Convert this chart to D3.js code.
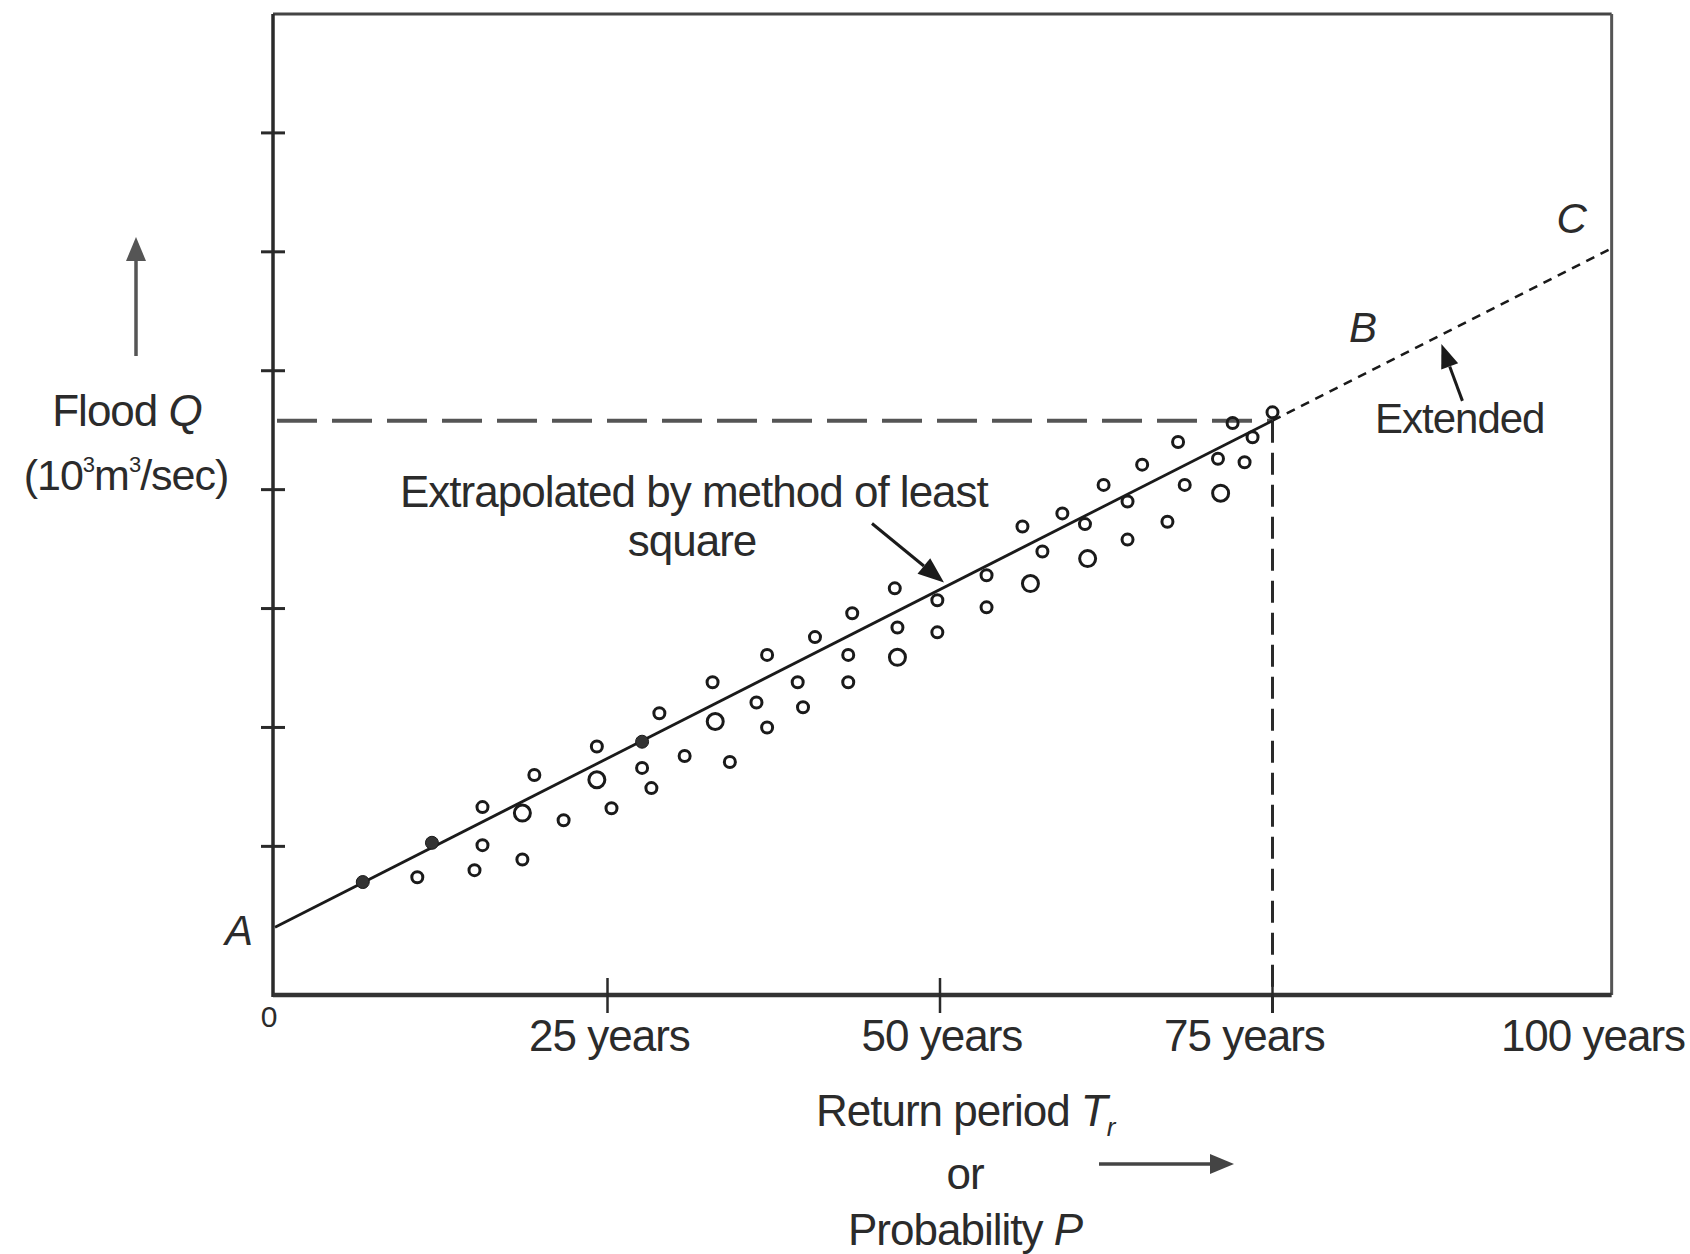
<!DOCTYPE html>
<html>
<head>
<meta charset="utf-8">
<script src="https://cdn.jsdelivr.net/npm/d3@7"></script>
<style>
  html, body { margin: 0; padding: 0; background: #fff; }
  svg { display: block; }
  text { font-family: "Liberation Sans", Arial, Helvetica, sans-serif; fill: #2b2b2b; }
</style>
</head>
<body>
<svg id="chart" width="1690" height="1254"></svg>
<script>
// Observed floods: return period (years) and peak flood Q (10^3 m^3/sec)
const smallPeriods = [10.7, 15.0, 15.6, 15.6, 18.6, 19.5, 21.7, 24.2, 25.3, 27.6, 28.3, 28.9,
  30.8, 32.9, 34.2, 37.0, 36.2, 37.0, 39.3, 39.7, 40.6, 43.1, 43.1, 43.4, 46.8, 46.6, 49.8,
  49.8, 53.5, 53.5, 56.2, 57.7, 59.2, 60.9, 64.1, 64.1, 62.3, 67.1, 65.2, 68.4, 67.9, 70.9,
  72.9, 72.0, 73.5, 75.0];
const smallFlows = [0.74, 0.80, 1.01, 1.33, 0.89, 1.60, 1.22, 1.84, 1.32, 1.66, 1.49, 2.12,
  1.76, 2.38, 1.71, 2.61, 2.21, 2.00, 2.38, 2.17, 2.76, 2.61, 2.38, 2.96, 2.84, 3.17, 3.07,
  2.80, 3.28, 3.01, 3.69, 3.48, 3.80, 3.71, 3.58, 3.90, 4.04, 3.73, 4.21, 4.04, 4.40, 4.26,
  4.23, 4.56, 4.44, 4.65];
const largePeriods = [18.6, 24.2, 33.1, 46.8, 56.8, 61.1, 71.1];
const largeFlows   = [1.28, 1.56, 2.05, 2.59, 3.21, 3.42, 3.97];
const solidPeriods = [6.6, 11.8, 27.6];
const solidFlows   = [0.70, 1.03, 1.88];

// Least-square line A-B and its extension B-C
const fitPeriods = [0, 75];
const fitFlows = [0.32, 4.58];
const extPeriods = [75, 100.5];
const extFlows = [4.58, 6.03];

// Axis ticks
const flowTicks = [1, 2, 3, 4, 5, 6, 7];
const periodTicks = [25, 50, 75];
const periodLabelValues = [25, 50, 75, 100];
const periodLabels = ["25 years", "50 years", "75 years", "100 years"];

(function draw() {
  const svg = d3.select("#chart");
  const x = d3.scaleLinear().domain([0, 100]).range([275, 1605]);
  const y = d3.scaleLinear().domain([-0.25, 8]).range([995, 14]);

  const fLeft = x(-0.15), fRight = x(100.5), fTop = y(8), fBottom = y(-0.25);
  const ink = "#1a1a1a";

  function arrow(g, x1, y1, x2, y2, color, width, headLen, headW) {
    const a = Math.atan2(y2 - y1, x2 - x1);
    const bx = x2 - headLen * Math.cos(a), by = y2 - headLen * Math.sin(a);
    g.append("line").attr("x1", x1).attr("y1", y1).attr("x2", bx).attr("y2", by)
      .attr("stroke", color).attr("stroke-width", width);
    const px = -Math.sin(a) * headW / 2, py = Math.cos(a) * headW / 2;
    g.append("path")
      .attr("d", `M${x2},${y2}L${bx + px},${by + py}L${bx - px},${by - py}Z`)
      .attr("fill", color);
  }

  // Frame
  const frame = svg.append("g");
  frame.append("line").attr("x1", fLeft).attr("y1", fTop).attr("x2", fRight).attr("y2", fTop)
    .attr("stroke", "#444").attr("stroke-width", 3);
  frame.append("line").attr("x1", fRight).attr("y1", fTop).attr("x2", fRight).attr("y2", fBottom)
    .attr("stroke", "#555").attr("stroke-width", 3);
  frame.append("line").attr("x1", fLeft).attr("y1", fTop).attr("x2", fLeft).attr("y2", fBottom + 2)
    .attr("stroke", "#2a2a2a").attr("stroke-width", 3.5);
  frame.append("line").attr("x1", fLeft).attr("y1", fBottom).attr("x2", fRight).attr("y2", fBottom)
    .attr("stroke", "#333").attr("stroke-width", 4.5);

  // Ticks on the Q axis
  svg.append("g").selectAll("line").data(flowTicks).join("line")
    .attr("x1", fLeft - 12).attr("x2", fLeft + 12)
    .attr("y1", d => y(d)).attr("y2", d => y(d))
    .attr("stroke", "#2a2a2a").attr("stroke-width", 3);

  // Ticks on the return period axis
  svg.append("g").selectAll("line").data(periodTicks).join("line")
    .attr("x1", d => x(d)).attr("x2", d => x(d))
    .attr("y1", fBottom - 17).attr("y2", fBottom + 18)
    .attr("stroke", "#2a2a2a").attr("stroke-width", 2.5);

  // Dashed guides from B to the axes
  const qB = fitFlows[1];
  svg.append("line")
    .attr("x1", x(0) + 2).attr("x2", x(fitPeriods[1])).attr("y1", y(qB)).attr("y2", y(qB))
    .attr("stroke", "#555").attr("stroke-width", 4).attr("stroke-dasharray", "40 15");
  svg.append("line")
    .attr("x1", x(fitPeriods[1])).attr("x2", x(fitPeriods[1])).attr("y1", y(qB)).attr("y2", fBottom + 18)
    .attr("stroke", "#2a2a2a").attr("stroke-width", 3).attr("stroke-dasharray", "22 10");

  // Fitted line and its extension
  const lineGen = d3.line().x(d => x(d[0])).y(d => y(d[1]));
  svg.append("path").datum(d3.zip(fitPeriods, fitFlows))
    .attr("d", lineGen).attr("fill", "none").attr("stroke", ink).attr("stroke-width", 2.8);
  svg.append("path").datum(d3.zip(extPeriods, extFlows))
    .attr("d", lineGen).attr("fill", "none").attr("stroke", ink).attr("stroke-width", 2.6)
    .attr("stroke-dasharray", "9 7");

  // Observed points
  const pts = svg.append("g");
  pts.selectAll("circle.s").data(d3.zip(smallPeriods, smallFlows)).join("circle")
    .attr("class", "s").attr("cx", d => x(d[0])).attr("cy", d => y(d[1])).attr("r", 5.5)
    .attr("fill", "none").attr("stroke", ink).attr("stroke-width", 3);
  pts.selectAll("circle.l").data(d3.zip(largePeriods, largeFlows)).join("circle")
    .attr("class", "l").attr("cx", d => x(d[0])).attr("cy", d => y(d[1])).attr("r", 8)
    .attr("fill", "none").attr("stroke", ink).attr("stroke-width", 3);
  pts.selectAll("circle.f").data(d3.zip(solidPeriods, solidFlows)).join("circle")
    .attr("class", "f").attr("cx", d => x(d[0])).attr("cy", d => y(d[1])).attr("r", 6.5)
    .attr("fill", "#333").attr("stroke", ink).attr("stroke-width", 1);

  // Return period labels
  const labelNudge = { 75: -28, 100: -12 };
  svg.append("g").selectAll("text").data(periodLabelValues).join("text")
    .attr("x", d => x(d) + (labelNudge[d] || 2)).attr("y", 1051)
    .attr("text-anchor", "middle").attr("font-size", 44).attr("letter-spacing", -1)
    .text((d, i) => periodLabels[i]);
  svg.append("text").attr("x", fLeft - 4).attr("y", 1027).attr("text-anchor", "middle")
    .attr("font-size", 30).text("0");

  // Axis titles
  const yt = svg.append("g");
  arrow(yt, 136, 356, 136, 237, "#555", 3.5, 24, 20);
  const t1 = yt.append("text").attr("x", 127).attr("y", 426).attr("text-anchor", "middle")
    .attr("font-size", 44).attr("letter-spacing", -1);
  t1.append("tspan").text("Flood ");
  t1.append("tspan").attr("font-style", "italic").text("Q");
  const t2 = yt.append("text").attr("x", 126).attr("y", 490).attr("text-anchor", "middle")
    .attr("font-size", 43).attr("letter-spacing", -1);
  t2.append("tspan").text("(10");
  t2.append("tspan").attr("font-size", 22).attr("dy", -18).text("3");
  t2.append("tspan").attr("dy", 18).text("m");
  t2.append("tspan").attr("font-size", 22).attr("dy", -18).text("3");
  t2.append("tspan").attr("dy", 18).text("/sec)");

  const xt = svg.append("g");
  const r1 = xt.append("text").attr("x", 816).attr("y", 1126).attr("font-size", 44).attr("letter-spacing", -1);
  r1.append("tspan").text("Return period ");
  r1.append("tspan").attr("font-style", "italic").text("T");
  r1.append("tspan").attr("font-style", "italic").attr("font-size", 26).attr("dy", 10).text("r");
  xt.append("text").attr("x", 965).attr("y", 1189).attr("text-anchor", "middle")
    .attr("font-size", 44).attr("letter-spacing", -1).text("or");
  const r3 = xt.append("text").attr("x", 848).attr("y", 1245).attr("font-size", 44).attr("letter-spacing", -1);
  r3.append("tspan").text("Probability ");
  r3.append("tspan").attr("font-style", "italic").text("P");
  arrow(xt, 1099, 1164, 1234, 1164, "#444", 3.5, 24, 20);

  // Annotations
  const ann = svg.append("g");
  ann.append("text").attr("x", 400).attr("y", 507).attr("font-size", 44).attr("letter-spacing", -1)
    .text("Extrapolated by method of least");
  ann.append("text").attr("x", 692).attr("y", 556).attr("text-anchor", "middle")
    .attr("font-size", 44).attr("letter-spacing", -1).text("square");
  const slope = (fitFlows[1] - fitFlows[0]) / (fitPeriods[1] - fitPeriods[0]);
  const onFit = t => [x(t), y(fitFlows[0] + slope * (t - fitPeriods[0]))];
  const tipLS = onFit(50.3);
  arrow(ann, tipLS[0] - 72, tipLS[1] - 64, tipLS[0], tipLS[1] - 5, ink, 3, 26, 20);
  const tipExt = onFit(87.7);
  arrow(ann, tipExt[0] + 21, tipExt[1] + 66, tipExt[0], tipExt[1] + 9, ink, 3, 24, 18);
  ann.append("text").attr("x", 1375).attr("y", 433).attr("font-size", 42).attr("letter-spacing", -1)
    .text("Extended");

  const italicLabel = (txt, px, py) => ann.append("text").attr("x", px).attr("y", py)
    .attr("text-anchor", "middle").attr("font-size", 42).attr("font-style", "italic").text(txt);
  const pA = onFit(fitPeriods[0]);
  italicLabel("A", pA[0] - 36, pA[1] + 18);
  italicLabel("B", x(81.8), 342);
  italicLabel("C", x(97.5), 233);
})();
</script>
</body>
</html>
